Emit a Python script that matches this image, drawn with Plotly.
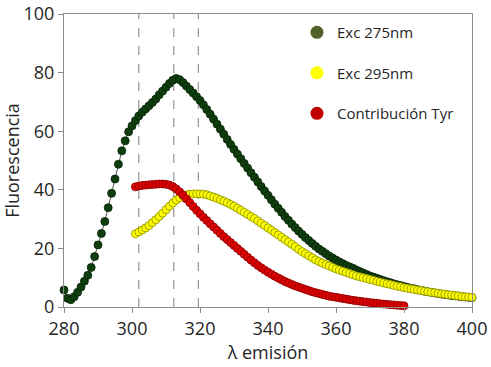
import plotly.graph_objects as go

# ---------------- data ----------------
wl_green = list(range(280, 401))
exc275 = [5.8, 3.0, 2.5, 3.5, 5.0, 6.8, 8.8, 10.8, 13.5, 17.2,
          21.2, 25.1, 29.2, 33.9, 38.8, 43.7, 48.7, 53.3, 56.7, 59.8,
          61.8, 63.6, 65.2, 66.5, 67.6, 68.7, 69.8, 71.0, 72.4, 73.7,
          75.0, 76.3, 77.4, 78.0, 77.6, 76.6, 75.4, 74.2, 73.0, 71.8,
          70.5, 69.0, 67.4, 65.8, 64.1, 62.4, 60.7, 59.0, 57.2, 55.5,
          53.8, 52.2, 50.6, 49.0, 47.4, 45.8, 44.3, 42.7, 41.1, 39.6,
          38.1, 36.6, 35.1, 33.7, 32.3, 30.9, 29.6, 28.3, 27.1, 25.9,
          24.8, 23.7, 22.7, 21.7, 20.7, 19.8, 19.0, 18.2, 17.4, 16.7,
          16.0, 15.4, 14.8, 14.2, 13.7, 13.2, 12.6, 12.1, 11.6, 11.1,
          10.6, 10.2, 9.8, 9.4, 9.0, 8.6, 8.3, 7.9, 7.6, 7.3,
          7.0, 6.7, 6.4, 6.2, 5.9, 5.7, 5.4, 5.2, 5.0, 4.8,
          4.6, 4.4, 4.3, 4.1, 3.9, 3.8, 3.7, 3.5, 3.4, 3.3,
          3.2]

wl_yellow = list(range(301, 401))
exc295 = [25.0, 25.6, 26.3, 27.0, 27.8, 28.8, 29.8, 30.9, 32.0, 33.2,
          34.4, 35.5, 36.5, 37.3, 37.9, 38.3, 38.5, 38.6, 38.6, 38.6,
          38.5, 38.3, 37.9, 37.5, 37.1, 36.6, 36.1, 35.6, 35.0, 34.4,
          33.7, 33.0, 32.3, 31.6, 30.9, 30.2, 29.4, 28.6, 27.8, 27.0,
          26.2, 25.4, 24.6, 23.8, 23.0, 22.2, 21.4, 20.6, 19.7, 18.9,
          18.2, 17.5, 16.8, 16.1, 15.5, 15.0, 14.5, 14.0, 13.5, 13.0,
          12.6, 12.2, 11.8, 11.4, 11.0, 10.6, 10.3, 10.0, 9.7, 9.4,
          9.1, 8.8, 8.5, 8.2, 7.9, 7.7, 7.4, 7.1, 6.9, 6.6,
          6.4, 6.2, 6.0, 5.8, 5.6, 5.4, 5.2, 5.0, 4.9, 4.7,
          4.5, 4.4, 4.2, 4.1, 3.9, 3.8, 3.6, 3.5, 3.4, 3.3]

wl_red = list(range(301, 381))
tyr = [41.0, 41.3, 41.5, 41.6, 41.7, 41.8, 41.9, 42.0, 42.0, 41.9,
       41.6, 41.1, 40.3, 39.3, 38.2, 36.9, 35.6, 34.3, 33.0, 31.8,
       30.6, 29.5, 28.4, 27.3, 26.2, 25.1, 24.0, 23.0, 22.0, 21.0,
       20.0, 19.0, 18.0, 17.0, 16.0, 15.1, 14.2, 13.4, 12.6, 11.9,
       11.2, 10.5, 9.9, 9.3, 8.7, 8.2, 7.7, 7.2, 6.8, 6.4,
       6.0, 5.6, 5.2, 4.9, 4.6, 4.3, 4.0, 3.7, 3.5, 3.3,
       3.1, 2.9, 2.7, 2.5, 2.3, 2.1, 2.0, 1.8, 1.7, 1.5,
       1.4, 1.3, 1.1, 1.0, 0.9, 0.8, 0.7, 0.6, 0.5, 0.4]

ref_lines = [302, 312.3, 319.5]
series_names = ["Exc 275nm", "Exc 295nm", "Contribución Tyr"]
x_ticks = [280, 300, 320, 340, 360, 380, 400]
y_ticks = [0, 20, 40, 60, 80, 100]

FONT = "Open Sans"
fig = go.Figure()

fig.add_trace(go.Scatter(x=wl_green, y=exc275, mode="lines+markers", cliponaxis=False,
                         line=dict(color="#555555", width=1),
                         marker=dict(size=8, color="#0e3d0e", line=dict(color="#062206", width=0.8)),
                         showlegend=False))
fig.add_trace(go.Scatter(x=wl_yellow, y=exc295, mode="markers", cliponaxis=False,
                         marker=dict(size=8, color="#ffff00", line=dict(color="#8a8a00", width=0.8)),
                         showlegend=False))
fig.add_trace(go.Scatter(x=wl_red, y=tyr, mode="markers", cliponaxis=False,
                         marker=dict(size=8, color="#dd0000", line=dict(color="#8a0000", width=0.8)),
                         showlegend=False))

legend_colors = ["#4f6228", "#ffff00", "#c00000"]
for i, (name, col) in enumerate(zip(series_names, legend_colors)):
    fig.add_trace(go.Scatter(x=[None], y=[None], mode="markers", name=name,
                             legendgroup=str(i),
                             marker=dict(size=13, color=col, line=dict(width=0))))

for xv in ref_lines:
    fig.add_shape(type="line", x0=xv, x1=xv, y0=0, y1=1, xref="x", yref="paper",
                  line=dict(color="#808080", width=1, dash="dash"), layer="below")

fig.update_layout(
    width=491, height=367,
    margin=dict(l=64, r=19, t=14, b=60, autoexpand=False),
    paper_bgcolor="white", plot_bgcolor="white",
    font=dict(family=FONT, color="#262626"),
    legend=dict(x=0.571, y=0.993, xanchor="left", yanchor="top",
                font=dict(size=15, family=FONT, color="#262626"),
                tracegroupgap=18, bgcolor="rgba(0,0,0,0)"),
    xaxis=dict(range=[280, 400], tickvals=x_ticks, showgrid=False, zeroline=False,
               automargin=False, ticklabeloverflow="allow",
               showline=True, linecolor="#8c8c8c", linewidth=1, mirror=True,
               ticks="outside", ticklen=5, tickcolor="#8c8c8c",
               tickfont=dict(size=18),
               title=dict(text="λ emisión", font=dict(size=18), standoff=7)),
    yaxis=dict(range=[0, 100], tickvals=y_ticks, showgrid=False, zeroline=False,
               automargin=False, ticklabeloverflow="allow",
               showline=True, linecolor="#8c8c8c", linewidth=1, mirror=True,
               ticks="outside", ticklen=5, tickcolor="#8c8c8c",
               tickfont=dict(size=18),
               title=dict(text="Fluorescencia", font=dict(size=18), standoff=0)),
)

fig.write_html("out.html", config={"displayModeBar": False},
               post_script="document.body.style.margin='0px';")
